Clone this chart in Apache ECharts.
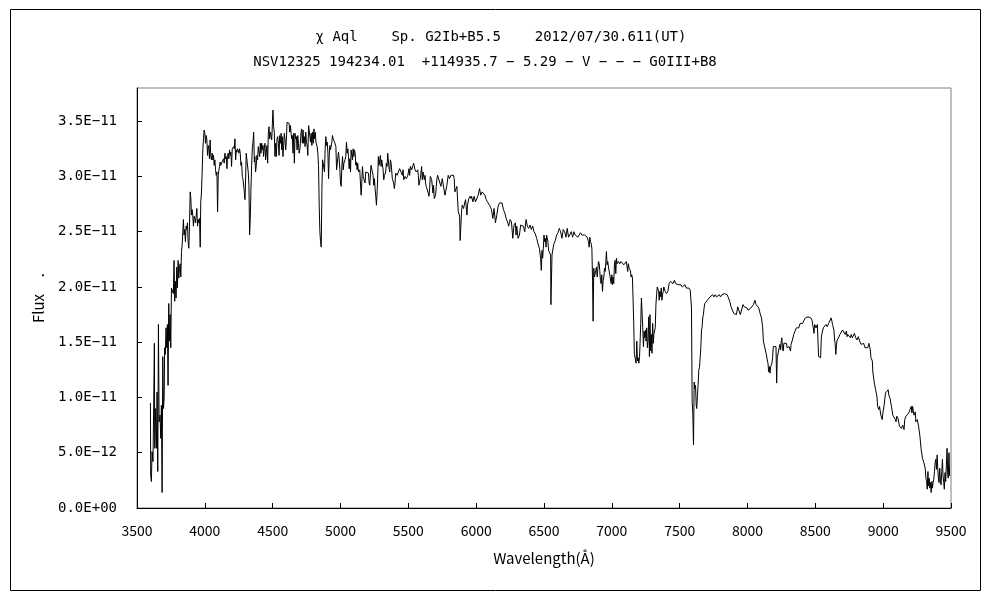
<!DOCTYPE html>
<html><head><meta charset="utf-8">
<script src="https://cdn.jsdelivr.net/npm/echarts@6/dist/echarts.min.js"></script>
<style>html,body{margin:0;padding:0;background:#fff}#c{width:1000px;height:600px}</style>
</head><body><div id="c"></div>
<script>
const titleLine1 = 'χ Aql    Sp. G2Ib+B5.5    2012/07/30.611(UT)';
const titleLine2 = 'NSV12325 194234.01  +114935.7 − 5.29 − V − − − G0III+B8';
const xAxisName = 'Wavelength(Å)';
const yAxisName = 'Flux     .';
const yTickLabels = ['0.0E+00','5.0E−12','1.0E−11','1.5E−11','2.0E−11','2.5E−11','3.0E−11','3.5E−11'];

// wavelength in Å
const wavelength = [
3599,3601,3606,3611,3618,3623,3628,3631,3635,3643,3648,3653,3658,3663,3670,3675,3680,3685,3690,3695,3700,3704,3709,3714,3719,3724,3729,3734,3739,3744,3749,3754,3761,3768,3773,3778,3783,3788,3793,3798,
3803,3808,3813,3818,3823,3828,3833,3837,3842,3847,3852,3857,3862,3867,3872,3877,3882,3887,3892,3897,3901,3906,3911,3916,3921,3926,3931,3936,3941,3946,3951,3956,3961,3966,3970,3975,3980,3985,3990,3995,
4000,4005,4010,4015,4020,4025,4030,4034,4039,4044,4049,4054,4059,4064,4069,4074,4079,4084,4089,4094,4099,4104,4108,4113,4118,4123,4128,4133,4138,4143,4148,4153,4158,4163,4167,4172,4177,4182,4187,4192,
4197,4202,4207,4212,4217,4222,4227,4232,4236,4241,4246,4251,4256,4261,4266,4271,4276,4281,4286,4291,4296,4300,4305,4310,4315,4320,4325,4330,4335,4340,4345,4350,4355,4360,4365,4369,4374,4379,4384,4389,
4394,4399,4404,4409,4414,4419,4424,4429,4433,4438,4443,4448,4453,4458,4463,4468,4473,4478,4483,4488,4493,4498,4502,4507,4512,4517,4522,4527,4532,4537,4542,4547,4552,4557,4562,4567,4571,4576,4581,4586,
4591,4596,4601,4606,4611,4616,4621,4626,4631,4636,4640,4645,4650,4655,4660,4665,4670,4675,4680,4685,4690,4695,4700,4704,4709,4714,4719,4724,4729,4734,4739,4744,4749,4754,4759,
4765,4775,4779,4784,4789,4794,4799,4804,4809,4814,4819,4828,4833,4838,4843,4848,4853,4858,4863,4868,4872,4877,4882,4887,4892,4897,4902,4907,4912,4917,4922,4926,4931,4936,4941,4946,4956,4966,4971,4980,
4985,4990,4995,5000,5005,5010,5015,5020,5025,5034,5039,5044,5049,5054,5059,5064,5069,5074,5078,5083,5088,5093,5098,5103,5108,5113,5118,5123,5127,5132,5142,5147,5152,5157,5162,5167,5176,5181,5186,5196,
5206,5211,5216,5221,5225,5235,5240,5245,5250,5255,5260,5265,5270,5275,5279,5284,5294,5299,5304,5314,5319,5324,5333,5338,5343,5348,5353,5358,5363,5368,5373,5382,5392,5397,5402,5407,5417,5426,5436,5446,
5456,5461,5466,5476,5485,5495,5505,5510,5515,5525,5534,5539,5549,5559,5569,5574,5578,5588,5598,5603,5608,5618,5623,5627,5632,5642,5647,5652,5657,5662,5672,5677,5681,5686,5691,5701,5706,5711,5716,5726,
5730,5740,5750,5760,5770,5775,5784,5794,5804,5814,5824,5833,5838,5843,5848,5858,5863,5868,5873,5878,5882,5887,5892,5897,5907,5917,5922,5932,5936,5946,5956,
5961,5966,5976,5985,5995,6005,6015,6025,6034,6044,6054,6064,6074,6083,6093,6103,6113,6123,6132,6142,6152,6162,6172,6181,6191,6201,6211,6221,6230,6240,6250,6260,6270,6279,6289,6294,6299,6309,6319,6328,
6338,6348,6358,6368,6377,6387,6397,6407,6417,6426,6436,6446,6456,6466,6475,6480,6485,6490,6495,6500,6505,6510,6515,6519,6529,6534,6544,6549,6551,6554,6559,6564,6568,6573,6583,6593,6603,6613,6622,6632,
6642,6652,6662,6671,6681,6691,6701,6711,6720,6730,6740,6750,6760,6769,6779,6789,6799,6809,6818,6828,6833,6838,6843,6848,6853,6858,6862,6867,6872,6877,6882,6887,6892,6897,6902,6907,6911,6916,6921,6926,
6931,6936,6941,6946,6951,6956,6960,6965,6970,6975,6980,6985,6990,6995,7000,7005,7009,7014,7019,7024,7029,7034,7039,7049,7058,7068,7078,7088,7098,7107,7117,7122,7127,7137,7142,7147,7152,7156,7161,7166,
7174,7179,7184,7189,7194,7199,7204,7208,7213,7218,7223,7228,7233,7238,7243,7248,7252,7257,7262,7267,7272,7277,7281,7286,7291,7296,7301,7306,7310,7315,7320,7325,7330,7335,7340,7345,7349,7354,7359,7364,
7369,7374,7379,7383,7393,7403,7413,7422,7432,7442,7451,7461,7471,7481,7490,7500,7510,7519,7529,7539,7549,7558,7568,7578,7583,7587,7592,7597,7602,7607,7612,7617,7622,7626,7631,7636,7641,7646,7651,7656,
7661,7665,7670,7675,7680,7685,7694,7704,7714,7724,7733,7743,7753,7762,7772,7782,7792,7801,7811,7821,7830,7840,7850,7860,7869,7879,7889,7899,7908,7918,7928,7937,7947,7957,7967,7976,7986,7996,8005,8015,
8025,8035,8044,8054,8064,8073,8083,8093,8103,8112,8117,8127,8137,8147,8151,8156,8161,8166,8171,8180,8185,8190,8200,8210,8215,8219,8224,8229,8234,8239,8244,8249,8253,8258,8263,8268,8278,8287,8292,8297,
8307,8317,8321,8331,8341,8351,8360,8370,
8378,8388,8398,8407,8417,8427,8437,8446,8456,8466,8476,8480,8485,8490,8495,8505,8515,8520,8524,8534,8539,8544,8549,8559,8568,8578,8588,8598,8607,8617,8627,8637,8642,8646,8651,8656,8661,8671,8681,8690,
8700,8710,8720,8729,8734,8739,8749,8759,8764,8773,8783,8788,8798,8807,8817,8827,8837,8846,8856,8866,8876,8886,8895,8905,8910,8920,8924,8934,8944,8954,8959,8968,8973,8983,8993,8998,9007,9017,9027,9037,
9042,9051,9061,9071,9081,9090,9095,9100,9110,9120,9129,9134,9144,9154,9159,9168,9178,9188,9198,9203,9207,9212,9217,9227,9237,9241,9251,9261,9271,9280,9290,9300,9310,9315,9320,9325,9330,9334,9339,9344,
9349,9354,9359,9363,9368,9373,9378,9383,9388,9393,9398,9402,9407,9412,9417,9422,9427,9432,9437,9441,9446,9451,9456,9461,9466,9471,9476,9480,9485,9490
];

// flux in units of 1E-11
const fluxE11 = [
0.95,0.30,0.24,0.51,0.42,0.93,1.49,0.54,0.90,0.54,1.05,0.33,1.66,0.78,0.84,0.63,0.93,0.14,1.37,0.90,0.99,1.45,1.39,1.63,1.45,1.66,1.11,1.85,1.51,1.75,1.45,1.99,2.00,1.94,2.24,1.87,2.05,1.90,2.18,1.99,
2.24,2.08,2.17,2.21,2.09,2.32,2.38,2.39,2.61,2.47,2.52,2.41,2.55,2.52,2.58,2.41,2.35,2.55,2.86,2.80,2.65,2.70,2.65,2.55,2.64,2.62,2.58,2.64,2.71,2.55,2.61,2.58,2.62,2.36,2.77,2.85,3.03,3.24,3.34,3.42,
3.39,3.30,3.37,3.33,3.19,3.28,3.25,3.16,3.33,3.18,3.15,3.21,3.15,3.19,3.10,3.15,3.06,3.01,3.04,2.68,3.01,3.06,3.09,3.13,3.10,3.12,3.13,3.12,3.16,3.12,3.21,3.16,3.18,3.07,3.18,3.21,3.16,3.24,3.19,3.22,
3.09,3.25,3.24,3.27,3.25,3.34,3.15,3.24,3.22,3.25,3.24,3.21,3.25,3.21,3.10,3.13,3.00,2.98,2.97,2.86,2.79,2.95,3.21,3.21,3.21,3.04,2.92,2.47,2.62,2.89,3.10,3.25,3.31,3.40,3.13,3.18,3.04,3.10,3.19,3.15,
3.27,3.28,3.18,3.30,3.21,3.30,3.24,3.28,3.18,3.25,3.30,3.15,3.22,3.28,3.12,3.39,3.45,3.34,3.40,3.37,3.33,3.48,3.60,3.45,3.40,3.18,3.30,3.18,3.34,3.36,3.30,3.19,3.37,3.30,3.39,3.24,3.36,3.18,3.28,3.39,
3.33,3.24,3.33,3.49,3.48,3.49,3.48,3.40,3.46,3.39,3.34,3.37,3.21,3.39,3.12,3.39,3.34,3.36,3.24,3.37,3.30,3.21,3.24,3.30,3.40,3.43,3.30,3.42,3.30,3.36,3.27,3.40,3.31,3.28,3.19,
3.46,3.46,3.31,3.39,3.28,3.40,3.30,3.43,3.34,3.40,3.31,3.27,3.21,3.10,2.74,2.50,2.41,2.36,2.89,3.15,3.12,3.13,3.04,3.25,3.36,3.28,3.31,3.22,2.98,3.19,3.28,3.24,3.27,3.31,3.37,3.34,3.31,3.27,3.06,3.06,
3.22,3.16,3.07,2.94,2.91,3.09,3.18,3.06,3.12,3.15,3.18,3.31,3.21,3.25,3.18,3.07,3.16,3.04,3.24,3.25,3.15,3.25,3.18,3.24,3.21,3.10,3.13,3.06,3.12,3.04,3.06,3.07,2.83,2.94,3.09,3.00,3.00,2.94,3.04,3.03,
3.03,2.94,2.92,3.03,3.10,3.09,3.01,2.92,2.98,2.89,2.82,2.74,2.86,3.03,3.18,3.10,3.19,3.09,3.15,3.06,2.97,3.01,3.04,3.12,3.09,3.21,3.22,3.07,3.04,3.15,3.12,2.98,2.94,2.89,2.94,3.03,3.01,3.01,3.07,3.06,
3.01,3.06,2.97,3.00,2.98,3.00,3.07,3.01,3.09,3.06,3.10,3.12,3.06,3.04,3.06,3.01,2.92,2.98,3.09,2.97,3.04,2.97,3.01,2.94,2.91,2.92,2.85,2.82,2.89,3.00,2.97,2.91,2.85,2.92,2.80,2.83,2.91,2.98,3.01,3.00,
3.01,2.91,2.98,2.97,2.83,2.82,2.92,3.01,2.98,3.01,3.01,3.01,2.98,2.86,2.85,2.91,2.92,2.68,2.67,2.64,2.42,2.42,2.68,2.74,2.71,2.77,2.79,2.65,2.74,2.80,2.82,
2.80,2.82,2.77,2.82,2.77,2.77,2.83,2.89,2.83,2.86,2.85,2.83,2.79,2.77,2.77,2.73,2.70,2.62,2.71,2.58,2.65,2.73,2.76,2.77,2.76,2.70,2.67,2.62,2.59,2.55,2.61,2.59,2.44,2.56,2.58,2.47,2.55,2.44,2.47,2.56,
2.55,2.55,2.50,2.61,2.55,2.53,2.56,2.52,2.55,2.50,2.48,2.44,2.39,2.35,2.26,2.15,2.33,2.26,2.35,2.47,2.41,2.44,2.36,2.47,2.41,2.33,2.32,2.29,1.84,1.84,2.29,2.30,2.36,2.39,2.42,2.47,2.49,2.53,2.50,2.44,
2.52,2.50,2.45,2.53,2.45,2.45,2.50,2.45,2.50,2.47,2.47,2.45,2.44,2.49,2.47,2.47,2.47,2.47,2.45,2.41,2.36,2.45,2.41,2.39,2.35,2.05,1.69,2.17,2.09,2.09,2.15,2.18,2.09,2.17,2.23,2.21,2.15,2.06,2.03,2.11,
1.96,2.06,2.09,2.17,2.14,2.23,2.32,2.20,2.23,2.18,2.17,2.11,2.12,2.03,2.11,2.02,2.09,2.03,2.20,2.24,2.12,2.26,2.21,2.23,2.21,2.23,2.23,2.20,2.21,2.23,2.14,2.21,2.17,2.15,2.09,2.11,2.08,2.09,1.69,1.39,
1.40,1.31,1.51,1.33,1.36,1.31,1.36,1.49,1.67,1.90,1.91,1.63,1.46,1.60,1.54,1.61,1.51,1.63,1.45,1.52,1.73,1.37,1.75,1.42,1.57,1.40,1.67,1.49,1.57,1.58,1.63,1.84,1.93,2.00,1.99,1.96,1.88,1.96,1.91,1.99,
1.88,1.93,1.96,2.00,1.96,1.94,1.96,2.03,2.05,2.06,2.03,2.06,2.03,2.02,2.02,2.02,2.02,2.00,2.00,2.02,1.99,2.00,1.99,1.97,1.96,1.81,0.96,0.86,0.57,1.14,1.08,1.11,0.93,0.90,1.02,1.11,1.25,1.27,1.36,1.45,
1.61,1.63,1.72,1.75,1.81,1.85,1.84,1.88,1.88,1.91,1.91,1.93,1.91,1.93,1.91,1.90,1.93,1.91,1.93,1.93,1.94,1.93,1.93,1.90,1.87,1.82,1.81,1.76,1.76,1.75,1.82,1.81,1.75,1.75,1.84,1.82,1.81,1.81,1.79,1.78,
1.81,1.82,1.84,1.88,1.84,1.84,1.81,1.76,1.72,1.63,1.51,1.51,1.40,1.33,1.31,1.23,1.28,1.22,1.28,1.31,1.36,1.46,1.45,1.46,1.13,1.36,1.37,1.37,1.45,1.48,1.43,1.51,1.54,1.45,1.42,1.49,1.49,1.49,1.45,1.46,
1.46,1.42,1.48,1.52,1.57,1.58,1.63,1.63,
1.63,1.67,1.67,1.67,1.70,1.72,1.72,1.73,1.72,1.72,1.70,1.66,1.63,1.58,1.66,1.63,1.66,1.66,1.37,1.37,1.36,1.54,1.58,1.63,1.64,1.66,1.64,1.67,1.66,1.72,1.66,1.61,1.52,1.49,1.39,1.48,1.52,1.54,1.57,1.57,
1.61,1.61,1.57,1.60,1.55,1.57,1.57,1.54,1.57,1.54,1.54,1.58,1.54,1.52,1.55,1.51,1.48,1.48,1.49,1.45,1.46,1.45,1.49,1.43,1.36,1.33,1.23,1.14,1.07,1.01,0.92,0.89,0.92,0.84,0.80,0.86,0.93,1.04,1.05,1.07,
1.02,0.99,0.92,0.84,0.83,0.80,0.78,0.83,0.81,0.74,0.75,0.72,0.75,0.71,0.80,0.83,0.84,0.86,0.89,0.90,0.92,0.86,0.92,0.84,0.87,0.78,0.80,0.74,0.65,0.53,0.45,0.41,0.36,0.27,0.24,0.17,0.33,0.20,0.27,0.18,
0.23,0.14,0.24,0.18,0.23,0.26,0.33,0.41,0.44,0.35,0.48,0.36,0.27,0.23,0.36,0.24,0.21,0.33,0.44,0.30,0.23,0.17,0.32,0.24,0.39,0.54,0.30,0.27,0.50,0.29
];

const FONT = '"Noto Sans CJK JP", "Noto Sans", sans-serif';
const MONO = '"DejaVu Sans Mono", "Liberation Mono", monospace';
const chart = echarts.init(document.getElementById('c'), null, {renderer: 'canvas'});
const seriesData = wavelength.map((w, i) => [w, fluxE11[i]]);

chart.setOption({
  animation: false,
  backgroundColor: '#fff',
  grid: {left: 137, right: 49, top: 88, bottom: 92, show: true, borderColor: '#808080', borderWidth: 1, containLabel: false},
  graphic: [
    {type: 'rect', shape: {x: 10.5, y: 9.5, width: 970, height: 581}, style: {fill: 'none', stroke: '#000', lineWidth: 1}, silent: true},
    {type: 'text', x: 501, y: 37, style: {text: titleLine1, textAlign: 'center', textVerticalAlign: 'middle', font: '14px ' + MONO, fill: '#000'}},
    {type: 'text', x: 485, y: 62, style: {text: titleLine2, textAlign: 'center', textVerticalAlign: 'middle', font: '14px ' + MONO, fill: '#000'}}
  ],
  xAxis: {
    type: 'value', min: 3500, max: 9500, interval: 500,
    name: xAxisName, nameLocation: 'middle', nameGap: 43,
    nameTextStyle: {fontFamily: FONT, fontSize: 15, color: '#000'},
    axisLine: {show: true, onZero: false, lineStyle: {color: '#000', width: 1}},
    axisTick: {show: true, inside: true, length: 5, lineStyle: {color: '#000'}},
    axisLabel: {margin: 16, fontFamily: FONT, fontSize: 14, color: '#000', formatter: v => String(v)},
    splitLine: {show: false}
  },
  yAxis: {
    type: 'value', min: 0, max: 3.8, interval: 0.5,
    name: yAxisName, nameLocation: 'middle', nameGap: 91, nameRotate: 90,
    nameTextStyle: {fontFamily: FONT, fontSize: 15, color: '#000'},
    axisLine: {show: true, lineStyle: {color: '#000', width: 1}},
    axisTick: {show: true, inside: true, length: 5, lineStyle: {color: '#000'}},
    axisLabel: {margin: 20, fontFamily: MONO, fontSize: 14, color: '#000', showMaxLabel: false,
      formatter: v => yTickLabels[Math.round(v / 0.5)] || ''},
    splitLine: {show: false}
  },
  series: [{
    type: 'line', data: seriesData, showSymbol: false, symbol: 'none', sampling: null,
    lineStyle: {color: '#000', width: 1}, silent: true
  }]
});
</script></body></html>
